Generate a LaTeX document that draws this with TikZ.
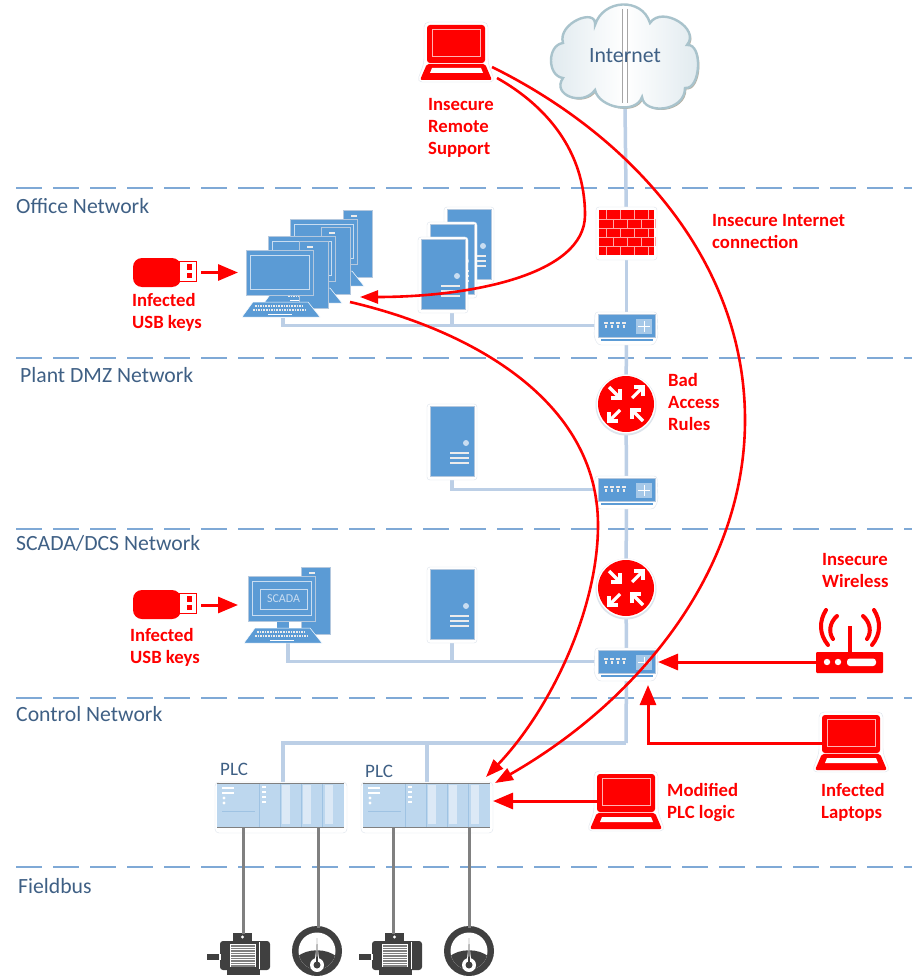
\documentclass[tikz,border=0pt]{standalone}
\usepackage{fontspec}
\setmainfont{Carlito}
\usetikzlibrary{arrows.meta,backgrounds}
\definecolor{blu}{HTML}{5B9BD5}
\definecolor{bluedge}{HTML}{B4C8DE}
\definecolor{pale}{HTML}{C9DDF1}
\definecolor{lnk}{HTML}{BCCFE6}
\definecolor{dashc}{HTML}{7FA9D6}
\definecolor{halo}{HTML}{DDE4EC}
\definecolor{rd}{HTML}{FF0000}
\definecolor{tit}{HTML}{3F6085}
\definecolor{plcf}{HTML}{BDD7EE}
\definecolor{plcs}{HTML}{9FC3E3}
\definecolor{plcb}{HTML}{DCE9F6}
\definecolor{dark}{HTML}{404040}
\definecolor{gry}{HTML}{808080}
\definecolor{cloudedge}{HTML}{A9C3CC}
\definecolor{cloudshade}{HTML}{B7AF9F}
\definecolor{cloudfill}{HTML}{DFE9EE}
\tikzset{
  dev/.style={inner sep=0pt,outer sep=0pt,anchor=north west,rectangle},
  sect/.style={anchor=west,inner sep=0pt,text=tit,font=\fontsize{21.7}{25}\selectfont},
  lab/.style={anchor=north west,inner sep=0pt,text=rd,align=left,font=\bfseries\fontsize{18.7}{22}\selectfont},
  plclab/.style={anchor=west,inner sep=0pt,text=tit,font=\fontsize{19}{22}\selectfont},
  zone/.style={draw=dashc,line width=2.4pt,dash pattern=on 26pt off 11pt},
  link/.style={draw=lnk,line width=3.5pt},
  wire/.style={draw=gry,line width=3pt},
  hit/.style={draw=rd,line width=3pt,-{Triangle[length=20pt,width=16pt]}},
  curve/.style={draw=rd,line width=2.6pt,-{Triangle[length=18pt,width=13pt]}},
  pics/laptop/.style={code={
    \draw[halo,fill=white,rounded corners=5pt] (-3,-3) -- (61,-3) -- (61,38) -- (68,57) -- (-10,57) -- (-3,38) -- cycle;
    \fill[rd,rounded corners=3pt] (0,0) rectangle (58,38);
    \draw[white!70!rd,line width=.7pt] (5,4) rectangle (53,31);
    \fill[rd,rounded corners=2pt] (0,38.8) -- (58,38.8) -- (65,55) -- (-7,55) -- cycle;
    \fill[white] (5,43) -- (54,43) -- (56,48) -- (3,48) -- cycle;
  }},
  pics/tower/.style={code={
    \draw[halo,fill=white,rounded corners=3pt] (-3,-2) rectangle (47,74);
    \fill[blu,draw=bluedge,line width=.7pt] (0,0) rectangle (44,70);
    \fill[pale] (36,37) circle (3pt);
    \foreach \q in {47,52,57} \draw[white!85!gray,line width=1.2pt] (20,\q) -- (39,\q);
  }},
  pics/pcunit/.style={code={
    \fill[blu,draw=bluedge,line width=.7pt] (53,-9) rectangle (82,58);
    \foreach \q in {-3,2} \draw[white!85!gray,line width=1.4pt] (61,\q) -- (67,\q);
    \fill[blu] (29,44) rectangle (41,53);
    \fill[blu,draw=white,line width=.5pt] (7,52) -- (62,52) -- (74,67) -- (-4,67) -- cycle;
    \draw[white!85!gray,line width=1.6pt,dash pattern=on 1.6pt off 1pt] (9,56) -- (58,56);
    \draw[white!85!gray,line width=1.6pt,dash pattern=on 1.6pt off 1pt] (7,60) -- (60,60);
    \draw[white,line width=1pt] (22,64) -- (46,64);
    \fill[blu,draw=bluedge,line width=.9pt] (0,0) rectangle (67,45);
    \draw[pale,line width=.7pt] (4,5) rectangle (63,39);
  }},
  pics/switchbox/.style={code={
    \draw[halo,fill=white,rounded corners=3pt] (-31,-14) -- (31,-14) -- (32,11) -- (28,19) -- (-28,19) -- (-32,11) -- cycle;
    \fill[blu,draw=bluedge,line width=.6pt] (-28,-12) rectangle (29,11);
    \fill[blu] (-25,13) rectangle (27,15);
    \foreach \q in {-20,-14,-8,-2} {\draw[white!85!gray,line width=1.2pt] (\q-2,-3) -- (\q+2,-3); \draw[white!85!gray,line width=1.2pt] (\q,-1) -- (\q,2);}
    \fill[white!45!blu] (10,-7) rectangle (26,8);
    \draw[white,line width=.6pt] (18,-5) -- (18,6) (12,0.5) -- (24,0.5);
  }},
  pics/routerbox/.style={code={
    \fill[halo] (0,1) circle (30.5pt);
    \fill[white] (0,0) circle (29.5pt);
    \fill[rd] (0,0) circle (28pt);
    \begin{scope}[draw=white,line width=3.2pt,miter limit=10]
      \draw (-17,-17) -- (-6,-6); \draw (-6,-15) -- (-6,-6) -- (-15,-6);
      \draw (6,-6) -- (17,-17);   \draw (8,-17) -- (17,-17) -- (17,-8);
      \draw (-6,6) -- (-17,17);   \draw (-17,8) -- (-17,17) -- (-8,17);
      \draw (17,17) -- (6,6);     \draw (6,15) -- (6,6) -- (15,6);
    \end{scope}
  }},
  pics/brickwall/.style={code={
    \draw[halo,fill=white,rounded corners=3pt] (-3,-3) rectangle (58,50);
    \fill[rd] (0,0) rectangle (55,45);
    \begin{scope}[draw=white!65!rd,line width=.7pt]
      \foreach \r in {1,...,4} \draw (0,9*\r) -- (55,9*\r);
      \foreach \r/\o in {0/0,1/7,2/0,3/7,4/0}
        \foreach \k in {0,1,2,3} \draw (\o+7+14*\k,9*\r) -- (\o+7+14*\k,9*\r+9);
    \end{scope}
  }},
  pics/plcrack/.style={code={
    \draw[halo,fill=white,rounded corners=4pt] (-2,-1) rectangle (130,50);
    \fill[plcf] (0,0) rectangle (127,44);
    \foreach \q in {65,86,108} \fill[plcb] (\q,2) rectangle (\q+8,41);
    \foreach \q in {42,63,84,105} \draw[plcs,line width=.7pt] (\q,0) -- (\q,44);
    \draw[gray,line width=.8pt] (0,0) -- (127,0);
    \draw[gray,line width=.8pt] (0,44) -- (127,44);
    \foreach \q in {5,10} \draw[white,line width=1.3pt] (5,\q) -- (17,\q);
    \foreach \q in {15,20} \fill[white] (7,\q) circle (1.6pt);
    \foreach \q in {4,9,14,19} \draw[white,line width=1.5pt] (45,\q) -- (49,\q);
    \draw[plcs,line width=.5pt] (5,28) -- (38,28);
  }},
  pics/motorbox/.style={code={
    \fill[dark] (13,-8) rectangle (32,1);
    \fill[white] (22.5,-4) circle (1.6pt);
    \fill[dark,rounded corners=3pt] (0,0) rectangle (50,29);
    \fill[dark] (-13,13) rectangle (-1,19);
    \fill[dark] (7,28) rectangle (40,34);
    \fill[white] (-1,13) rectangle (0.5,19);
    \fill[white] (10,3) rectangle (36,26);
    \foreach \q in {5,7.5,...,25} \draw[gray,line width=1.2pt] (11,\q) -- (35,\q);
    \fill[white] (39,1) rectangle (40,28);
  }},
  pics/gaugebox/.style={code={
    \fill[dark] (0,0) circle (25pt);
    \begin{scope}
      \clip (0,0) circle (18.5pt);
      \fill[white] (-20,-20) rectangle (20,20);
      \fill[dark] (-20,6) .. controls (-10,-3) and (10,-3) .. (20,6) -- (20,20) -- (-20,20) -- cycle;
    \end{scope}
    \fill[white] (0,14) circle (7pt);
    \fill[white] (-2.5,12) -- (0,-9) -- (2.5,12) -- cycle;
    \fill[dark] (-1,12) -- (0,-13) -- (1,12) -- cycle;
    \fill[dark] (0,14) circle (3.5pt);
  }},
  pics/usbstick/.style={code={
    \fill[rd,rounded corners=9pt] (0,0) rectangle (48,29);
    \draw[rd,fill=white,line width=1pt] (46,3) rectangle (63,23);
    \fill[rd] (54,6) rectangle (59,12);
    \fill[rd] (54,15) rectangle (59,20);
  }}
}
\begin{document}
\begin{tikzpicture}[x=1pt,y=-1pt]
\useasboundingbox (0,0) rectangle (912,976);

% zones
\coordinate (z1a) at (16,188); \coordinate (z1b) at (912,188);
\coordinate (z2a) at (16,358); \coordinate (z2b) at (912,358);
\coordinate (z3a) at (16,529); \coordinate (z3b) at (912,529);
\coordinate (z4a) at (16,698); \coordinate (z4b) at (912,698);
\coordinate (z5a) at (16,867); \coordinate (z5b) at (912,867);
\node[sect] (t1) at (16,206) {Office Network};
\node[sect] (t2) at (20,375) {Plant DMZ Network};
\node[sect] (t3) at (16,543) {SCADA/DCS Network};
\node[sect] (t4) at (16,714) {Control Network};
\node[sect] (t5) at (18,886) {Fieldbus};

% cloud
\def\cloudpath{(563,43) .. controls +(-6,-20) and +(2,-18) .. (595,25)
  .. controls +(8,-26) and +(-8,-26) .. (650,23)
  .. controls +(12,-18) and +(14,-16) .. (687,45)
  .. controls +(16,-2) and +(16,2) .. (685,88)
  .. controls +(0,24) and +(2,18) .. (642,97)
  .. controls +(-6,18) and +(4,18) .. (595,90)
  .. controls +(-12,17) and +(-12,17) .. (563,78)
  .. controls +(-16,-2) and +(-16,2) .. (563,43) -- cycle}
\fill[cloudshade,shift={(1.4,1.4)}] \cloudpath;
\path[draw=cloudedge,line width=2.4pt,left color=cloudfill,right color=cloudfill,middle color=white] \cloudpath;
\draw[gray!70,line width=.8pt] (622,9) -- (622,103);
\draw[gray!70,line width=.8pt] (627,9) -- (627,103);
\node[inner sep=0pt,minimum width=147pt,minimum height=102pt,text=tit,font=\fontsize{21.8}{26}\selectfont] (internet) at (625,56) {Internet};

% network devices
\pic at (599,210) {brickwall};
\node[dev,minimum width=55pt,minimum height=45pt] (fw) at (599,210) {};
\pic at (626,326) {switchbox};
\node[dev,minimum width=57pt,minimum height=23pt] (sw1) at (598,314) {};
\pic at (626,490) {switchbox};
\node[dev,minimum width=57pt,minimum height=23pt] (sw2) at (598,478) {};
\pic at (626,662) {switchbox};
\node[dev,minimum width=57pt,minimum height=23pt] (sw3) at (598,650) {};
\pic at (626,404) {routerbox};
\node[dev,minimum width=56pt,minimum height=56pt] (r1) at (598,376) {};
\pic at (626,588) {routerbox};
\node[dev,minimum width=56pt,minimum height=56pt] (r2) at (598,560) {};

% office PCs
\pic at (290,219) {pcunit};
\pic at (268,236) {pcunit};
\pic at (246,250) {pcunit};
\node[dev,minimum width=77pt,minimum height=67pt] (pcs) at (244,250) {};
\coordinate (pcsport) at (283,318);
\pic at (447,209) {tower};
\pic at (430,224) {tower};
\pic at (421,239) {tower};
\node[dev,minimum width=44pt,minimum height=70pt] (srvs) at (430,239) {};
\coordinate (srvsport) at (452,309);
\pic at (430,406) {tower};
\node[dev,minimum width=44pt,minimum height=70pt] (srvd) at (430,406) {};
\coordinate (srvdport) at (452,476);

% SCADA
\pic at (248,576) {pcunit};
\node[dev,minimum width=77pt,minimum height=67pt] (scada) at (246,576) {};
\node[draw=pale,line width=.6pt,inner sep=0pt,minimum width=47pt,minimum height=20pt,text=pale,font=\fontsize{12}{14}\selectfont] (scadat) at (283.5,599) {SCADA};
\coordinate (scadaport) at (288,643);
\pic at (430,569) {tower};
\node[dev,minimum width=44pt,minimum height=70pt] (srvc) at (430,569) {};
\coordinate (srvcport) at (452,639);

% PLCs
\pic at (217,783) {plcrack};
\node[dev,minimum width=127pt,minimum height=44pt] (plc1) at (217,783) {};
\pic at (363,783) {plcrack};
\node[dev,minimum width=127pt,minimum height=44pt] (plc2) at (363,783) {};
\node[plclab] (pl1) at (220,769) {PLC};
\node[plclab] (pl2) at (365,771) {PLC};

% field devices
\pic at (220,941) {motorbox};
\node[dev,minimum width=50pt,minimum height=29pt] (m1) at (220,941) {};
\pic at (372,941) {motorbox};
\node[dev,minimum width=50pt,minimum height=29pt] (m2) at (372,941) {};
\pic at (317,951) {gaugebox};
\node[dev,minimum width=50pt,minimum height=50pt] (g1) at (292,926) {};
\pic at (469,951) {gaugebox};
\node[dev,minimum width=50pt,minimum height=50pt] (g2) at (444,926) {};
\coordinate (p1a) at (243,827); \coordinate (m1a) at (243,934);
\coordinate (p1b) at (318,827); \coordinate (g1a) at (318,928);
\coordinate (p2a) at (393,827); \coordinate (m2a) at (393,934);
\coordinate (p2b) at (469,827); \coordinate (g2a) at (469,928);
\coordinate (p1in) at (283,783);
\coordinate (p2in) at (427,783);
\coordinate (bus) at (626,743);

% background connectors
\begin{scope}[on background layer]
  \fill[white] (0,0) rectangle (912,976);
  \draw[zone] (z1a) -- (z1b);
  \draw[zone] (z2a) -- (z2b);
  \draw[zone] (z3a) -- (z3b);
  \draw[zone] (z4a) -- (z4b);
  \draw[zone] (z5a) -- (z5b);
  \draw[link] (internet.south) -- (fw);
  \draw[link] (fw) -- (sw1);
  \draw[link] (sw1) -- (r1);
  \draw[link] (r1) -- (sw2);
  \draw[link] (sw2) -- (r2);
  \draw[link] (r2) -- (sw3);
  \draw[link] (sw3) -- (bus);
  \draw[link] (bus) -| (p1in);
  \draw[link] (p2in) -- (p2in |- bus);
  \draw[link] (pcsport) |- (sw1);
  \draw[link] (srvsport) -- (srvsport |- sw1);
  \draw[link] (srvdport) |- (sw2);
  \draw[link] (scadaport) |- (sw3);
  \draw[link] (srvcport) -- (srvcport |- sw3);
\end{scope}
\draw[wire] (p1a) -- (m1a);
\draw[wire] (p1b) -- (g1a);
\draw[wire] (p2a) -- (m2a);
\draw[wire] (p2b) -- (g2a);

% red threat devices
\pic at (427,25) {laptop};
\node[dev,minimum width=58pt,minimum height=55pt] (lapr) at (427,25) {};
\pic at (597,774) {laptop};
\node[dev,minimum width=58pt,minimum height=55pt] (lapm) at (597,774) {};
\pic at (822,715) {laptop};
\node[dev,minimum width=58pt,minimum height=55pt] (lapi) at (822,715) {};
\pic at (133,258) {usbstick};
\node[dev,minimum width=63pt,minimum height=29pt] (usb1) at (133,258) {};
\pic at (133,590) {usbstick};
\node[dev,minimum width=63pt,minimum height=29pt] (usb2) at (133,590) {};

% wireless router
\fill[rd,rounded corners=1pt] (816,652) rectangle (883,673);
\fill[white] (827,662) circle (3.2pt);
\fill[white] (838,662) circle (3.2pt);
\fill[white,rounded corners=3pt] (847,658.5) rectangle (876,666);
\draw[rd,line width=4pt] (850,652) -- (850,626);
\draw[rd,line width=4pt,line cap=round] (826,610) .. controls (819,621) and (819,634) .. (828,645);
\draw[rd,line width=4pt,line cap=round] (837,616) .. controls (830,622) and (828,632) .. (833,639);
\draw[rd,line width=4pt,line cap=round] (874,610) .. controls (881,621) and (881,634) .. (872,645);
\draw[rd,line width=4pt,line cap=round] (863,616) .. controls (870,622) and (872,632) .. (867,639);
\node[dev,minimum width=67pt,minimum height=21pt] (wifi) at (816,652) {};

% labels
\node[lab] (l1) at (428,98) {Insecure\\Remote\\Support};
\node[lab] (l2) at (712,214) {Insecure Internet\\connection};
\node[lab] (l3) at (668,373) {Bad\\Access\\Rules};
\node[lab] (l4) at (132,293) {Infected\\USB keys};
\node[lab] (l5) at (130,628) {Infected\\USB keys};
\node[lab] (l6) at (822,553) {Insecure\\Wireless};
\node[lab] (l7) at (821,783) {Infected\\Laptops};
\node[lab] (l8) at (667,783) {Modified\\PLC logic};

% arrows
\coordinate (u1s) at (201,272.5); \coordinate (u1e) at (238,272.5);
\coordinate (u2s) at (201,605);   \coordinate (u2e) at (238,605);
\draw[hit] (u1s) -- (u1e);
\draw[hit] (u2s) -- (u2e);
\coordinate (sw3r) at (658,662);
\coordinate (sw3b) at (648,685);
\coordinate (plc2r) at (493,801);
\draw[hit] (wifi.west |- sw3r) -- (sw3r);
\draw[hit] (lapi.west |- 0,743) -| (sw3b);
\draw[hit] (lapm.west |- plc2r) -- (plc2r);
% curves
\coordinate (cs1) at (497,78);  \coordinate (ce1) at (360,297);
\coordinate (cs2) at (492,67);  \coordinate (ce2) at (495,783);
\coordinate (cs3) at (350,302); \coordinate (ce3) at (486,777);
\draw[curve] (cs1) .. controls (545,105) and (585,150) .. (585,215)
  .. controls (585,275) and (470,297) .. (ce1);
\draw[curve] (cs2) .. controls (630,135) and (745,260) .. (745,420)
  .. controls (745,570) and (640,700) .. (ce2);
\draw[curve] (cs3) .. controls (470,330) and (598,400) .. (598,525)
  .. controls (598,610) and (550,710) .. (ce3);
\end{tikzpicture}
\end{document}
